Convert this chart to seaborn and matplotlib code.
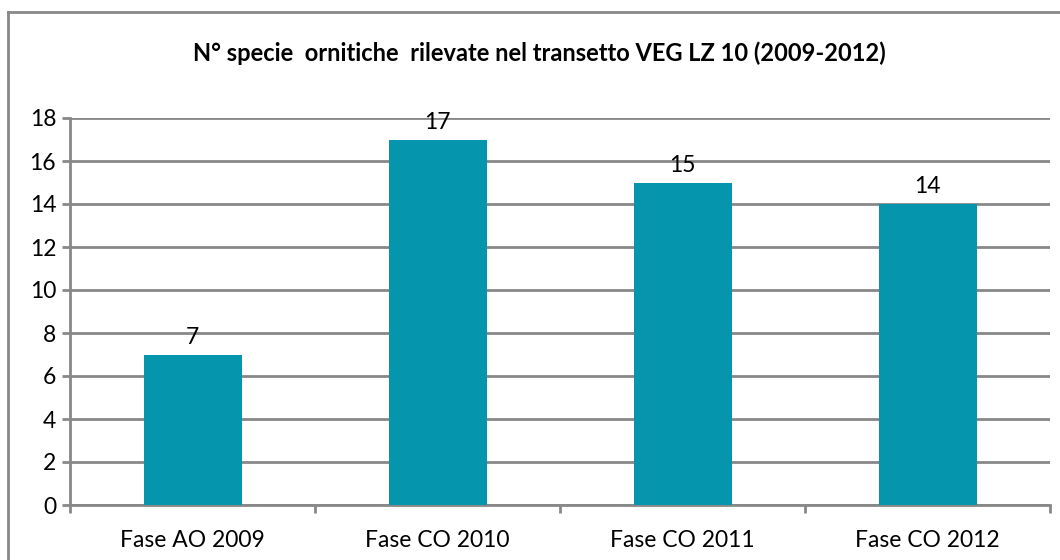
import matplotlib
matplotlib.use("Agg")
import matplotlib.pyplot as plt
from matplotlib.lines import Line2D
import seaborn as sns
import pandas as pd

categories = ["Fase AO 2009", "Fase CO 2010", "Fase CO 2011", "Fase CO 2012"]
values = [7, 17, 15, 14]
title = "N° specie  ornitiche  rilevate nel transetto VEG LZ 10 (2009-2012)"

sns.set_theme(style="white")
plt.rcParams['font.family'] = ['Lato', 'DejaVu Sans']

grey = "#888888"
bar_color = "#0596AD"

fig = plt.figure(figsize=(10.6, 5.6), dpi=100)
ax = fig.add_axes([70/1060, 55/560, 980/1060, 387/560])

df = pd.DataFrame({"cat": categories, "val": values})
sns.barplot(data=df, x="cat", y="val", color=bar_color, width=0.4, ax=ax,
            saturation=1, linewidth=0, zorder=3)

ax.set_xlim(-0.5, len(categories) - 0.5)
ax.set_ylim(0, 18)
ax.set_yticks(range(0, 19, 2))
ax.set_xlabel("")
ax.set_ylabel("")
ax.yaxis.grid(True, color=grey, linewidth=2, zorder=0)
ax.set_axisbelow(True)

for s in ["top", "right"]:
    ax.spines[s].set_visible(False)
for s in ["left", "bottom"]:
    ax.spines[s].set_visible(True)
    ax.spines[s].set_color(grey)
    ax.spines[s].set_linewidth(2)

ax.tick_params(axis="y", which="major", left=True, length=6, width=2,
               color=grey, labelsize=16.5, pad=4, labelcolor="black")
ax.tick_params(axis="x", which="major", bottom=False, labelsize=16.5, pad=12,
               labelcolor="black")
ax.set_xticks([i - 0.5 for i in range(len(categories) + 1)], minor=True)
ax.tick_params(axis="x", which="minor", bottom=True, length=6, width=2,
               color=grey)

for i, v in enumerate(values):
    ax.annotate(str(v), (i, v), xytext=(0, 5), textcoords="offset points",
                ha="center", va="bottom", fontsize=16.5, color="black")

fig.text(539/1060, 1 - 53/560, title, ha="center", va="center",
         fontsize=17, fontweight="bold", color="black")

x0 = 8/1060
y0 = 1 - 12/560
fig.add_artist(Line2D([x0, x0], [-0.05, y0], transform=fig.transFigure,
                      color=grey, linewidth=2, solid_capstyle="projecting"))
fig.add_artist(Line2D([x0, 1.05], [y0, y0], transform=fig.transFigure,
                      color=grey, linewidth=2, solid_capstyle="projecting"))

fig.savefig("out.png", dpi=100)
